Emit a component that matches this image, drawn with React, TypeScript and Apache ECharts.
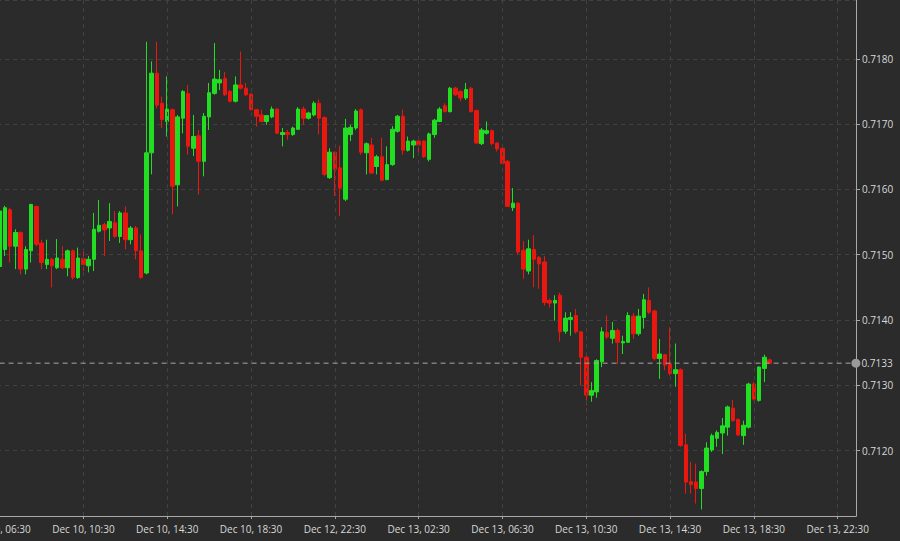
import React, { useEffect, useRef } from 'react';
import * as echarts from 'echarts';

// [open, close, low, high] per 15-minute bar
const ohlc: [number, number, number, number][] = [
  [0.71482, 0.71567, 0.71478, 0.71572],
  [0.71508, 0.71572, 0.71498, 0.71575],
  [0.71569, 0.71513, 0.71488, 0.71572],
  [0.71513, 0.71534, 0.71478, 0.71539],
  [0.71534, 0.71478, 0.71470, 0.71536],
  [0.71478, 0.71508, 0.71470, 0.71513],
  [0.71506, 0.71577, 0.71488, 0.71578],
  [0.71574, 0.71516, 0.71513, 0.71575],
  [0.71518, 0.71488, 0.71478, 0.71523],
  [0.71485, 0.71493, 0.71478, 0.71523],
  [0.71493, 0.71483, 0.71450, 0.71495],
  [0.71480, 0.71495, 0.71478, 0.71524],
  [0.71493, 0.71480, 0.71478, 0.71513],
  [0.71480, 0.71506, 0.71467, 0.71508],
  [0.71506, 0.71465, 0.71462, 0.71508],
  [0.71465, 0.71495, 0.71463, 0.71511],
  [0.71494, 0.71485, 0.71475, 0.71508],
  [0.71483, 0.71493, 0.71473, 0.71498],
  [0.71493, 0.71539, 0.71475, 0.71564],
  [0.71536, 0.71545, 0.71534, 0.71584],
  [0.71546, 0.71538, 0.71498, 0.71549],
  [0.71541, 0.71551, 0.71521, 0.71579],
  [0.71549, 0.71528, 0.71526, 0.71567],
  [0.71528, 0.71564, 0.71518, 0.71567],
  [0.71564, 0.71523, 0.71508, 0.71574],
  [0.71523, 0.71541, 0.71516, 0.71544],
  [0.71541, 0.71506, 0.71493, 0.71544],
  [0.71506, 0.71465, 0.71463, 0.71531],
  [0.71472, 0.71656, 0.71470, 0.71826],
  [0.71656, 0.71778, 0.71623, 0.71796],
  [0.71778, 0.71729, 0.71724, 0.71826],
  [0.71732, 0.71707, 0.71694, 0.71742],
  [0.71704, 0.71723, 0.71681, 0.71773],
  [0.71722, 0.71605, 0.71562, 0.71724],
  [0.71607, 0.71711, 0.71574, 0.71714],
  [0.71709, 0.71750, 0.71686, 0.71752],
  [0.71747, 0.71666, 0.71653, 0.71760],
  [0.71663, 0.71681, 0.71651, 0.71714],
  [0.71682, 0.71643, 0.71592, 0.71691],
  [0.71643, 0.71712, 0.71620, 0.71717],
  [0.71711, 0.71748, 0.71691, 0.71763],
  [0.71747, 0.71769, 0.71745, 0.71824],
  [0.71763, 0.71768, 0.71752, 0.71783],
  [0.71770, 0.71745, 0.71743, 0.71780],
  [0.71750, 0.71735, 0.71733, 0.71752],
  [0.71735, 0.71760, 0.71733, 0.71773],
  [0.71760, 0.71755, 0.71753, 0.71811],
  [0.71755, 0.71745, 0.71743, 0.71763],
  [0.71746, 0.71722, 0.71721, 0.71747],
  [0.71722, 0.71712, 0.71696, 0.71723],
  [0.71714, 0.71704, 0.71703, 0.71722],
  [0.71704, 0.71713, 0.71699, 0.71714],
  [0.71711, 0.71723, 0.71709, 0.71727],
  [0.71723, 0.71686, 0.71685, 0.71724],
  [0.71684, 0.71687, 0.71666, 0.71694],
  [0.71687, 0.71684, 0.71676, 0.71691],
  [0.71684, 0.71694, 0.71682, 0.71696],
  [0.71692, 0.71723, 0.71691, 0.71726],
  [0.71723, 0.71709, 0.71699, 0.71727],
  [0.71709, 0.71717, 0.71707, 0.71719],
  [0.71714, 0.71732, 0.71712, 0.71735],
  [0.71732, 0.71709, 0.71684, 0.71738],
  [0.71710, 0.71623, 0.71620, 0.71712],
  [0.71618, 0.71657, 0.71616, 0.71663],
  [0.71657, 0.71631, 0.71590, 0.71658],
  [0.71633, 0.71602, 0.71559, 0.71667],
  [0.71585, 0.71694, 0.71582, 0.71708],
  [0.71684, 0.71695, 0.71674, 0.71699],
  [0.71694, 0.71720, 0.71691, 0.71723],
  [0.71722, 0.71657, 0.71653, 0.71724],
  [0.71656, 0.71670, 0.71623, 0.71672],
  [0.71668, 0.71625, 0.71624, 0.71679],
  [0.71635, 0.71650, 0.71623, 0.71653],
  [0.71650, 0.71614, 0.71613, 0.71679],
  [0.71615, 0.71638, 0.71614, 0.71666],
  [0.71638, 0.71692, 0.71636, 0.71697],
  [0.71689, 0.71712, 0.71687, 0.71714],
  [0.71712, 0.71660, 0.71653, 0.71722],
  [0.71660, 0.71674, 0.71658, 0.71681],
  [0.71668, 0.71674, 0.71648, 0.71676],
  [0.71674, 0.71668, 0.71653, 0.71675],
  [0.71674, 0.71650, 0.71648, 0.71675],
  [0.71646, 0.71685, 0.71643, 0.71687],
  [0.71684, 0.71706, 0.71679, 0.71708],
  [0.71704, 0.71723, 0.71703, 0.71726],
  [0.71728, 0.71719, 0.71718, 0.71732],
  [0.71719, 0.71755, 0.71718, 0.71757],
  [0.71755, 0.71745, 0.71743, 0.71757],
  [0.71750, 0.71740, 0.71735, 0.71752],
  [0.71740, 0.71753, 0.71737, 0.71763],
  [0.71755, 0.71719, 0.71718, 0.71757],
  [0.71721, 0.71671, 0.71670, 0.71722],
  [0.71670, 0.71691, 0.71668, 0.71694],
  [0.71686, 0.71690, 0.71684, 0.71704],
  [0.71690, 0.71670, 0.71668, 0.71692],
  [0.71671, 0.71662, 0.71658, 0.71672],
  [0.71663, 0.71640, 0.71638, 0.71665],
  [0.71643, 0.71574, 0.71573, 0.71645],
  [0.71572, 0.71579, 0.71567, 0.71602],
  [0.71579, 0.71504, 0.71500, 0.71580],
  [0.71507, 0.71478, 0.71463, 0.71521],
  [0.71475, 0.71509, 0.71470, 0.71523],
  [0.71508, 0.71493, 0.71450, 0.71530],
  [0.71496, 0.71486, 0.71448, 0.71498],
  [0.71489, 0.71427, 0.71422, 0.71498],
  [0.71430, 0.71426, 0.71419, 0.71433],
  [0.71426, 0.71430, 0.71399, 0.71438],
  [0.71438, 0.71382, 0.71367, 0.71442],
  [0.71383, 0.71403, 0.71379, 0.71412],
  [0.71401, 0.71404, 0.71376, 0.71412],
  [0.71407, 0.71382, 0.71379, 0.71417],
  [0.71382, 0.71343, 0.71300, 0.71383],
  [0.71343, 0.71285, 0.71270, 0.71345],
  [0.71285, 0.71292, 0.71275, 0.71305],
  [0.71290, 0.71338, 0.71281, 0.71340],
  [0.71336, 0.71382, 0.71328, 0.71389],
  [0.71381, 0.71374, 0.71371, 0.71407],
  [0.71372, 0.71384, 0.71364, 0.71397],
  [0.71384, 0.71366, 0.71333, 0.71387],
  [0.71365, 0.71367, 0.71348, 0.71376],
  [0.71366, 0.71407, 0.71365, 0.71412],
  [0.71406, 0.71379, 0.71371, 0.71411],
  [0.71379, 0.71406, 0.71376, 0.71417],
  [0.71404, 0.71431, 0.71387, 0.71440],
  [0.71430, 0.71412, 0.71409, 0.71450],
  [0.71414, 0.71341, 0.71338, 0.71416],
  [0.71341, 0.71348, 0.71310, 0.71371],
  [0.71347, 0.71331, 0.71323, 0.71348],
  [0.71333, 0.71318, 0.71315, 0.71389],
  [0.71318, 0.71324, 0.71298, 0.71364],
  [0.71324, 0.71208, 0.71206, 0.71326],
  [0.71209, 0.71152, 0.71134, 0.71226],
  [0.71153, 0.71148, 0.71134, 0.71183],
  [0.71152, 0.71142, 0.71119, 0.71180],
  [0.71142, 0.71168, 0.71110, 0.71170],
  [0.71168, 0.71204, 0.71162, 0.71213],
  [0.71201, 0.71223, 0.71198, 0.71226],
  [0.71219, 0.71228, 0.71206, 0.71231],
  [0.71227, 0.71238, 0.71195, 0.71250],
  [0.71236, 0.71267, 0.71223, 0.71269],
  [0.71265, 0.71246, 0.71244, 0.71278],
  [0.71248, 0.71224, 0.71223, 0.71249],
  [0.71223, 0.71239, 0.71209, 0.71246],
  [0.71236, 0.71302, 0.71234, 0.71304],
  [0.71302, 0.71279, 0.71277, 0.71305],
  [0.71277, 0.71328, 0.71275, 0.71329],
  [0.71326, 0.71343, 0.71305, 0.71347],
  [0.71339, 0.71334, 0.71333, 0.71341],
];

// trading sessions (15-minute slots)
const sessions = [
  { day: 'Dec 10', start: '06:30', slots: 62 },
  { day: 'Dec 12', start: '22:00', slots: 8 },
  { day: 'Dec 13', start: '00:00', slots: 94 },
];

function buildCategories(): string[] {
  const out: string[] = [];
  sessions.forEach((s) => {
    const [h, m] = s.start.split(':').map(Number);
    for (let k = 0; k < s.slots; k++) {
      const t = h * 60 + m + k * 15;
      const hh = String(Math.floor(t / 60)).padStart(2, '0');
      const mm = String(t % 60).padStart(2, '0');
      out.push(`${s.day}, ${hh}:${mm}`);
    }
  });
  return out;
}

const categories = buildCategories();
const labelStep = 16;
const yMin = 0.711;
const yMax = 0.7189;
const yInterval = 0.001;
const lastPrice = ohlc[ohlc.length - 1][1];

const BG = '#2a2b2a';
const GRID = '#404140';
const AXIS = '#a9a9a9';
const TEXT = '#d9d9d9';
const UP = '#22de22';
const DOWN = '#e8170f';
const FONT = 'Open Sans';

export default function App() {
  const ref = useRef<HTMLDivElement>(null);

  useEffect(() => {
    if (!ref.current) return;
    const chart = echarts.init(ref.current, undefined, { renderer: 'svg' });
    const verticals = categories
      .filter((_, i) => i % labelStep === 0)
      .map((c) => ({ xAxis: c }));

    const priceLine = [
      { value: [categories[0], lastPrice], symbol: 'none', symbolSize: 0 },
      { value: [categories[categories.length - 1], lastPrice], symbolOffset: [2.5, 0] },
    ];

    chart.setOption({
      animation: false,
      backgroundColor: BG,
      grid: {
        left: -3,
        right: 44,
        top: 0,
        bottom: 25,
        containLabel: false,
        outerBoundsMode: 'none',
      },
      xAxis: {
        type: 'category',
        data: categories,
        boundaryGap: true,
        axisLine: { show: true, lineStyle: { color: AXIS, width: 1 } },
        axisTick: {
          show: true,
          alignWithLabel: true,
          interval: labelStep - 1,
          length: 3,
          lineStyle: { color: AXIS },
        },
        axisLabel: {
          interval: labelStep - 1,
          color: TEXT,
          fontSize: 10,
          fontFamily: FONT,
          margin: 8,
        },
        splitLine: { show: false },
      },
      yAxis: {
        type: 'value',
        position: 'right',
        min: yMin,
        max: yMax,
        interval: yInterval,
        axisLine: { show: true, lineStyle: { color: AXIS, width: 1 } },
        axisTick: { show: true, length: 4, lineStyle: { color: AXIS } },
        axisLabel: {
          formatter: (v: number) => v.toFixed(4),
          showMinLabel: false,
          showMaxLabel: false,
          color: TEXT,
          fontSize: 10,
          fontFamily: FONT,
          margin: 6,
        },
        splitLine: { show: true, lineStyle: { color: GRID, type: [4, 4], width: 1 } },
      },
      series: [
        {
          type: 'line',
          data: [],
          silent: true,
          markLine: {
            silent: true,
            symbol: ['none', 'none'],
            lineStyle: { color: GRID, type: [4, 4], width: 1 },
            label: { show: false },
            data: verticals,
          },
        },
        {
          type: 'candlestick',
          data: ohlc,
          barWidth: 4,
          itemStyle: {
            color: UP,
            color0: DOWN,
            borderColor: UP,
            borderColor0: DOWN,
            borderWidth: 1,
          },
        },
        {
          type: 'line',
          data: priceLine,
          silent: true,
          z: 5,
          clip: false,
          symbol: 'circle',
          symbolSize: 9,
          showSymbol: true,
          showAllSymbol: true,
          lineStyle: { color: '#a8a8a8', type: [5, 4], width: 1 },
          itemStyle: { color: '#9a9a9a', borderWidth: 0, opacity: 1 },
          endLabel: {
            show: true,
            formatter: () => lastPrice.toFixed(4),
            color: TEXT,
            fontSize: 10,
            fontFamily: FONT,
            distance: 8,
          },
        },
      ],
    });
    return () => chart.dispose();
  }, []);

  return (
    <div
      ref={ref}
      style={{ position: 'fixed', left: 0, top: 0, width: 900, height: 541 }}
    />
  );
}
